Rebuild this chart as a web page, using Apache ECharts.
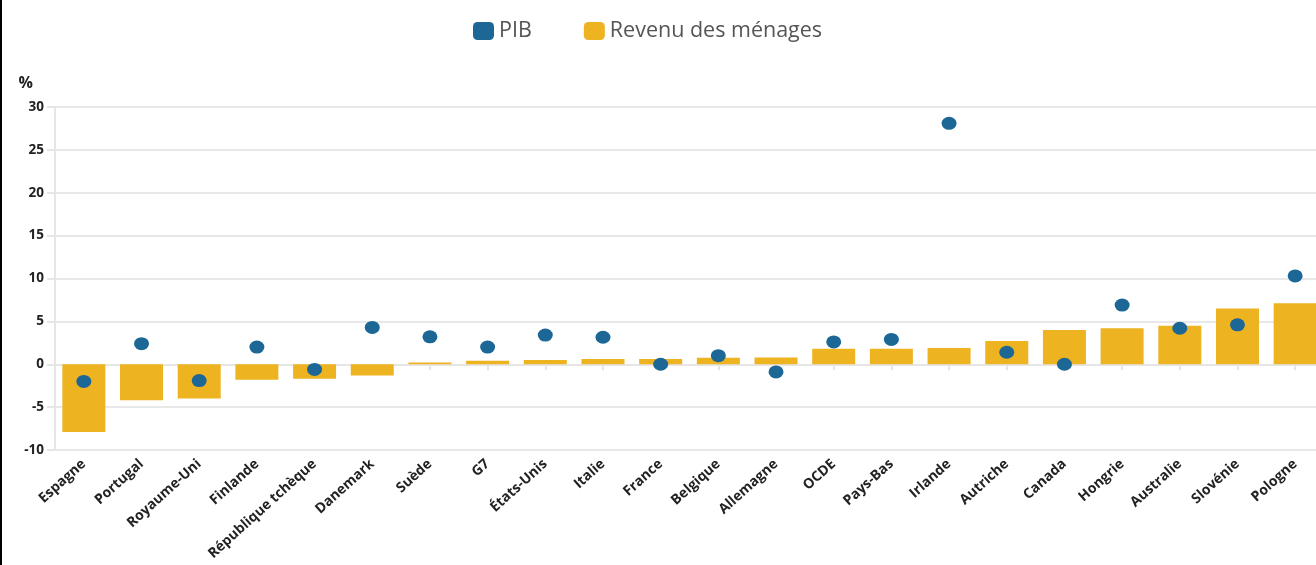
<!DOCTYPE html>
<html><head><meta charset="utf-8">
<script src="https://cdn.jsdelivr.net/npm/echarts@6/dist/echarts.min.js"></script>
<style>html,body{margin:0;padding:0;background:#fff;overflow:hidden;width:1316px;height:565px}#c{width:1326px;height:565px}</style>
</head><body><div id="c"></div>
<script>
const categories = ['Espagne','Portugal','Royaume-Uni','Finlande','République tchèque','Danemark','Suède','G7','États-Unis','Italie','France','Belgique','Allemagne','OCDE','Pays-Bas','Irlande','Autriche','Canada','Hongrie','Australie','Slovénie','Pologne'];
const revenu = [-7.9,-4.2,-4.0,-1.8,-1.7,-1.3,0.2,0.4,0.5,0.6,0.6,0.75,0.8,1.8,1.8,1.9,2.7,4.0,4.2,4.5,6.5,7.1];
const pib = [-2.0,2.4,-1.9,2.0,-0.6,4.3,3.2,2.0,3.4,3.15,0.0,1.0,-0.9,2.6,2.9,28.1,1.4,0.0,6.9,4.2,4.6,10.3];
const yTicks = {min:-10, max:30, interval:5};

const chart = echarts.init(document.getElementById('c'), null, {renderer:'canvas'});
const font = '"Open Sans", "Noto Sans", sans-serif';
const blue = '#1c6796', yellow = '#edb321';
chart.setOption({
  animation:false,
  backgroundColor:'#fff',
  textStyle:{fontFamily:font},
  legend:{
    top:15, left:468,
    itemWidth:21, itemHeight:18, itemGap:52,
    icon:'roundRect',
    textStyle:{fontSize:21.5, color:'#555', fontFamily:font},
    data:['PIB','Revenu des ménages']
  },
  grid:{left:55, top:107, width:1269, bottom:115, containLabel:false},
  xAxis:{
    type:'category', data:categories,
    axisLine:{show:true, lineStyle:{color:'#e6e6e6', width:2}},
    axisTick:{show:true, alignWithLabel:true, length:6, lineStyle:{color:'#e6e6e6', width:2}},
    axisLabel:{rotate:42, interval:0, margin:12, fontSize:14, fontWeight:'bold', color:'#222', fontFamily:font}
  },
  yAxis:{
    type:'value', min:yTicks.min, max:yTicks.max, interval:yTicks.interval,
    name:'%', nameLocation:'end', nameGap:16,
    nameTextStyle:{fontSize:16, fontWeight:'bold', color:'#222', align:'right', padding:[0,22,0,0], fontFamily:font},
    axisLine:{show:true, lineStyle:{color:'#e6e6e6', width:2}},
    axisTick:{show:true, length:8, lineStyle:{color:'#e6e6e6', width:2}},
    axisLabel:{fontSize:13.5, fontWeight:'bold', color:'#222', margin:11, fontFamily:font},
    splitLine:{show:true, lineStyle:{color:'#e8e8e8', width:2}}
  },
  series:[
    {name:'PIB', type:'bar', stack:'s', data:[], barWidth:43, itemStyle:{color:blue}},
    {name:'Revenu des ménages', type:'bar', stack:'s', data:revenu, barWidth:43, itemStyle:{color:yellow}, z:2},
    {name:'PIB', type:'scatter', data:pib, symbol:'circle', symbolSize:[15,13], itemStyle:{color:blue, opacity:1}, z:3}
  ],
  graphic:[{type:'rect', left:0, top:0, shape:{x:0,y:0,width:2,height:565}, style:{fill:'#000'}}]
});
</script></body></html>
